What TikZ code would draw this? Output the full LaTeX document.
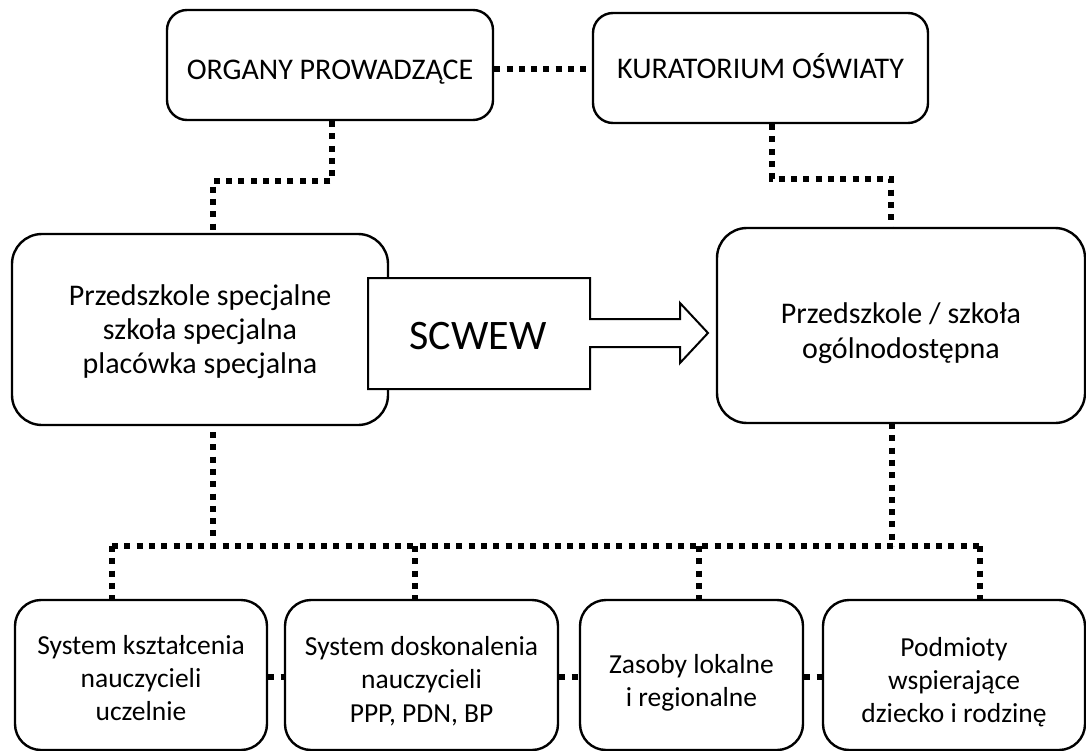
\documentclass[tikz,border=0pt]{standalone}
\usepackage{fontspec}
\setmainfont{Carlito}
\newcommand{\fsz}[2]{\fontsize{#1}{#2}\selectfont}
\tikzset{
  box/.style={draw, line width=2.4pt, rounded corners=#1, inner sep=0pt, fill=white},
  txt/.style={align=center, inner sep=0pt},
  dotline/.style={line width=5.5pt, dash pattern=on 6pt off 6.3pt},
  arrowshape/.style={draw, line width=2pt, fill=white}
}
\begin{document}
\begin{tikzpicture}[x=1pt,y=-1pt]
\path[use as bounding box, clip] (0,0) rectangle (1086,751);
\fill[white] (0,0) rectangle (1086,751);

% top boxes
\node[box=20, minimum width=326, minimum height=110] (org) at (330,65) {};
\node[txt, font={\fsz{30}{36}}] (orgt) at ([yshift=-7]org.center) {ORGANY PROWADZĄCE};
\node[box=20, minimum width=335, minimum height=110] (kur) at (760.5,68) {};
\node[txt, font={\fsz{30}{36}}] (kurt) at ([yshift=2]kur.center) {KURATORIUM OŚWIATY};

% big boxes
\node[box=30, minimum width=376, minimum height=191] (lb) at (200,329.5) {};
\node[txt, font={\fsz{30}{34}}] (lbt) at ([yshift=-2.5]lb.center) {Przedszkole specjalne\\szkoła specjalna\\placówka specjalna};
\node[box=30, minimum width=368, minimum height=195] (rb) at (901,325.5) {};
\node[txt, font={\fsz{30}{35.5}}] (rbt) at ([yshift=-7.5]rb.center) {Przedszkole / szkoła\\ogólnodostępna};

% bottom boxes
\node[box=26, minimum width=252, minimum height=150] (b1) at (141,675) {};
\node[txt, font={\fsz{27.5}{33}}] (b1t) at ([yshift=-3.5]b1.center) {System kształcenia\\nauczycieli\\uczelnie};
\node[box=26, minimum width=273, minimum height=150] (b2) at (421.5,675) {};
\node[txt, font={\fsz{27.5}{33.5}}] (b2t) at ([yshift=-6]b2.center) {System doskonalenia\\nauczycieli\\PPP, PDN, BP};
\node[box=26, minimum width=223, minimum height=150] (b3) at (691.5,675) {};
\node[txt, font={\fsz{27.5}{33}}] (b3t) at ([yshift=-7.5]b3.center) {Zasoby lokalne\\i regionalne};
\node[box=26, minimum width=262, minimum height=150] (b4) at (954,675) {};
\node[txt, font={\fsz{27.5}{33}}] (b4t) at ([yshift=-7]b4.center) {Podmioty\\wspierające\\dziecko i rodzinę};

% top connectors
\coordinate (mh) at (0,69);
\draw[dotline] (org.east |- mh) -- (kur.west |- mh);
\coordinate (os) at ([xshift=2]org.south);
\coordinate (j1) at (213,181);
\draw[dotline] (os) |- (j1) -- (j1 |- lb.north);
\coordinate (ks) at ([xshift=11.5]kur.south);
\coordinate (j2) at (891,179);
\draw[dotline] (ks) |- (j2) -- (j2 |- rb.north);

% bottom bus
\coordinate (hl) at (112,546);
\coordinate (hr) at (980,546);
\coordinate (t2) at (415,546);
\coordinate (t3) at (699,546);
\coordinate (ls) at (213,432);
\coordinate (rs) at (892,423);
\draw[dotline] (ls) -- (ls |- hl);
\draw[dotline] (rs) -- (rs |- hr);
\draw[dotline] (hl) -- (hr);
\draw[dotline] (hl) -- (hl |- b1.north);
\draw[dotline] (t2) -- (t2 |- b2.north);
\draw[dotline] (t3) -- (t3 |- b3.north);
\draw[dotline] (hr) -- (hr |- b4.north);

% side connectors
\draw[dotline] ([yshift=-2]b1.east) -- ([yshift=-2]b2.west);
\draw[dotline] ([yshift=-2]b2.east) -- ([yshift=-2]b3.west);
\draw[dotline] ([yshift=-2]b3.east) -- ([yshift=-2]b4.west);

% SCWEW arrow
\draw[arrowshape] (368,278) -- (590,278) -- (590,319) -- (680,319) -- (680,303) -- (708,333)
  -- (680,363) -- (680,347) -- (590,347) -- (590,389) -- (368,389) -- cycle;
\node[font={\fsz{42}{48}}, inner sep=0pt] (sc) at (478,336) {SCWEW};
\end{tikzpicture}
\end{document}
